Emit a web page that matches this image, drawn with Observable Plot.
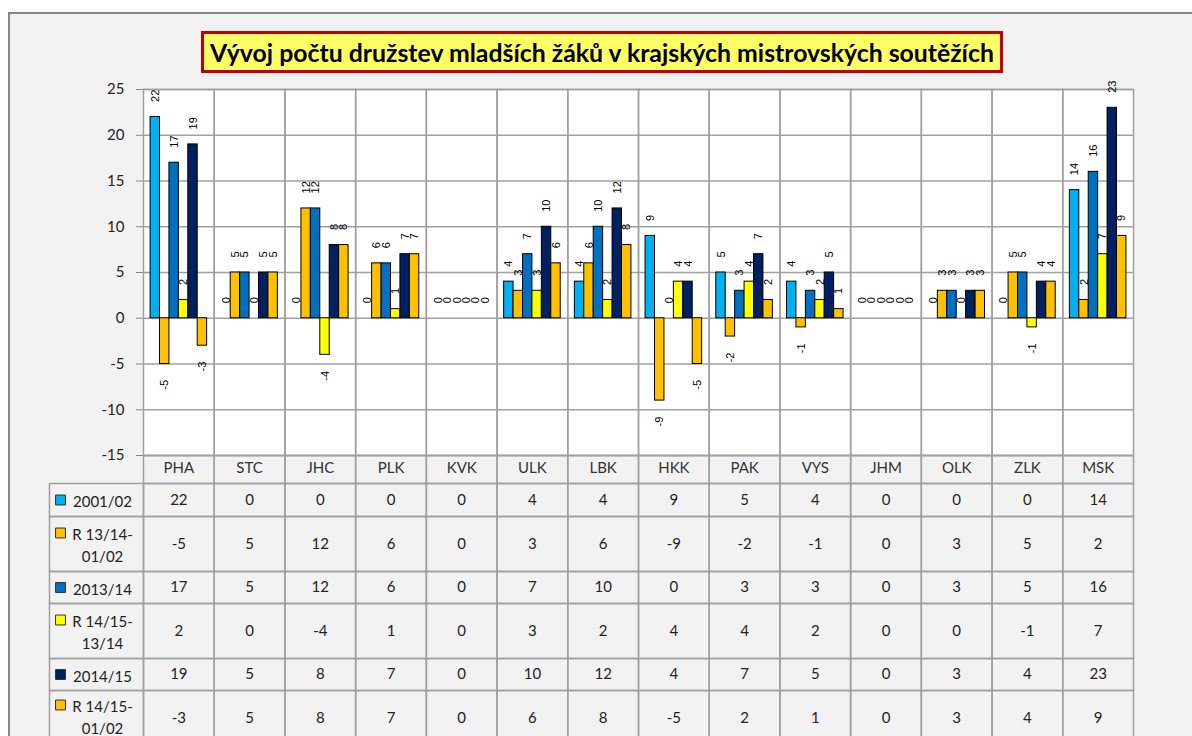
<!DOCTYPE html>
<html>
<head>
<meta charset="utf-8">
<script src="https://cdn.jsdelivr.net/npm/d3@7"></script>
<script src="https://cdn.jsdelivr.net/npm/@observablehq/plot@0.6"></script>
<style>
  html, body { margin: 0; padding: 0; background: #fff; }
  body { width: 1192px; height: 736px; overflow: hidden; position: relative; font-family: Lato, sans-serif; }
  #frame { position: absolute; left: 8px; top: 12px; width: 1300px; height: 900px; background: #f2f2f2; border: 2px solid #868686; box-sizing: border-box; }
  #chart { position: absolute; left: 0; top: 0; }
  #title { position: absolute; left: 201px; top: 31px; width: 802px; height: 42px; box-sizing: border-box;
           background: #ffff66; border: 3px solid #c00000; display: flex; align-items: center; justify-content: center;
           font-family: Lato, sans-serif; font-weight: bold; color: #000; white-space: nowrap; }
  #title span { font-size: 23px; }
</style>
</head>
<body>
<div id="frame"></div>
<div id="chart"></div>
<div id="title"><span>Vývoj počtu družstev mladších žáků v krajských mistrovských soutěžích</span></div>
<script>
// ---- data ----
const categories = ["PHA","STC","JHC","PLK","KVK","ULK","LBK","HKK","PAK","VYS","JHM","OLK","ZLK","MSK"];
const seriesNames = ["2001/02","R 13/14-01/02","2013/14","R 14/15-13/14","2014/15","R 14/15-01/02"];
const legendLabels = ["2001/02","R 13/14-\n01/02","2013/14","R 14/15-\n13/14","2014/15","R 14/15-\n01/02"];
const seriesColors = ["#00b0f0","#ffc000","#0070c0","#ffff00","#002060","#ffc000"];
const v2001_02   = [22, 0, 0, 0, 0, 4, 4, 9, 5, 4, 0, 0, 0, 14];
const r1314_0102 = [-5, 5,12, 6, 0, 3, 6,-9,-2,-1, 0, 3, 5, 2];
const v2013_14   = [17, 5,12, 6, 0, 7,10, 0, 3, 3, 0, 3, 5, 16];
const r1415_1314 = [ 2, 0,-4, 1, 0, 3, 2, 4, 4, 2, 0, 0,-1, 7];
const v2014_15   = [19, 5, 8, 7, 0,10,12, 4, 7, 5, 0, 3, 4, 23];
const r1415_0102 = [-3, 5, 8, 7, 0, 6, 8,-5, 2, 1, 0, 3, 4, 9];
const yTicks = [-15,-10,-5,0,5,10,15,20,25];

const seriesValues = [v2001_02, r1314_0102, v2013_14, r1415_1314, v2014_15, r1415_0102];
const rows = categories.flatMap((cat, i) =>
  seriesNames.map((s, j) => ({cat, series: s, value: seriesValues[j][i]})));

// ---- layout ----
const W = 1192, H = 736;
const mLeft = 143, mRight = 59, mTop = 89, mBottom = 281;
const plotH = H - mTop - mBottom;          // 366
const plotW = W - mLeft - mRight;          // 990
const headerH = 28;
const rowHeights = [33, 55, 32, 55, 32, 55];
const rowTops = [], rowBottoms = [];
{ let acc = headerH; rowHeights.forEach(h => { rowTops.push(acc); acc += h; rowBottoms.push(acc); }); }
const grid = "#a0a0a0";
const legendColW = 94;
const labelFont = "'Liberation Sans', Arial, sans-serif";

const cellFrames = [[0, headerH], ...rowTops.map((t, i) => [t, rowBottoms[i]])].map(([t, b]) =>
  Plot.frame({stroke: grid, strokeWidth: 1.5, fill: "none", insetTop: plotH + t, insetBottom: -b}));

const legendFrames = rowTops.map((t, i) =>
  Plot.frame({facet: "super", stroke: grid, strokeWidth: 1.5, fill: "none",
              insetLeft: -legendColW, insetRight: plotW, insetTop: plotH + t, insetBottom: -rowBottoms[i]}));

const tableTexts = seriesNames.map((s, j) =>
  Plot.text(rows.filter(d => d.series === s), {
    fx: "cat", text: d => String(d.value), frameAnchor: "bottom", lineAnchor: "middle",
    dy: (rowTops[j] + rowBottoms[j]) / 2, fontSize: 15, fill: "#222"
  }));

const legendTexts = seriesNames.map((s, j) => {
  const twoLines = legendLabels[j].includes("\n");
  return Plot.text([legendLabels[j]], {
    facet: "super", text: d => d, frameAnchor: "bottom-left", textAnchor: "middle", lineAnchor: "middle",
    lineHeight: 1.47, dx: -41, dy: (rowTops[j] + rowBottoms[j]) / 2 - (twoLines && j === 5 ? 2 : 0),
    fontSize: 15, fill: "#222"
  });
});

const legendKeys = seriesNames.map((s, j) => {
  const twoLines = legendLabels[j].includes("\n");
  const c = (rowTops[j] + rowBottoms[j]) / 2 - (twoLines && j === 5 ? 2 : 0);
  return Plot.dot([s], {
    facet: "super", frameAnchor: "bottom-left", symbol: "square", r: 5.6,
    fill: d => d, stroke: "#333", strokeWidth: 1,
    dx: -83, dy: twoLines ? c - 11 : c
  });
});

const chart = Plot.plot({
  width: W, height: H,
  marginLeft: mLeft, marginRight: mRight, marginTop: mTop, marginBottom: mBottom,
  style: {background: "none", fontFamily: "Lato, sans-serif", fontSize: "15px", overflow: "visible"},
  fx: {domain: categories, padding: 0, round: false, axis: null},
  x: {domain: seriesNames, paddingInner: 0, paddingOuter: 0.75, round: false, axis: null},
  y: {domain: [-15, 25], axis: null},
  color: {domain: seriesNames, range: seriesColors},
  marks: [
    Plot.frame({fill: "white", stroke: null}),
    Plot.ruleY(yTicks, {stroke: grid, strokeWidth: 1.5}),
    Plot.frame({stroke: grid, strokeWidth: 1.5, fill: "none"}),
    ...cellFrames,
    ...legendFrames,
    Plot.barY(rows.filter(d => d.value !== 0), {fx: "cat", x: "series", y: "value", fill: "series", stroke: "#000", strokeWidth: 1}),
    Plot.text(rows.filter(d => d.value >= 0), {
      fx: "cat", x: "series", y: "value", text: d => String(d.value),
      rotate: -90, textAnchor: "start", lineAnchor: "middle", dy: -15,
      fontSize: 11, fontFamily: labelFont, fill: "#000"
    }),
    Plot.text(rows.filter(d => d.value < 0), {
      fx: "cat", x: "series", y: "value", text: d => String(d.value),
      rotate: -90, textAnchor: "end", lineAnchor: "middle", dy: 16,
      fontSize: 11, fontFamily: labelFont, fill: "#000"
    }),
    Plot.axisY({ticks: yTicks, tickFormat: d => String(d), tickSize: 7, tickPadding: 12, fontSize: 15, stroke: "#868686", fill: "#222", label: null}),
    Plot.axisFx({anchor: "bottom", tickSize: 0, tickPadding: 7, fontSize: 15, fill: "#333", label: null}),
    ...tableTexts,
    ...legendTexts,
    ...legendKeys
  ]
});
document.getElementById("chart").appendChild(chart);

// fit title text width to the reference
const span = document.querySelector("#title span");
const w = span.getBoundingClientRect().width;
span.style.fontSize = (23 * 784 / w).toFixed(2) + "px";
</script>
</body>
</html>
